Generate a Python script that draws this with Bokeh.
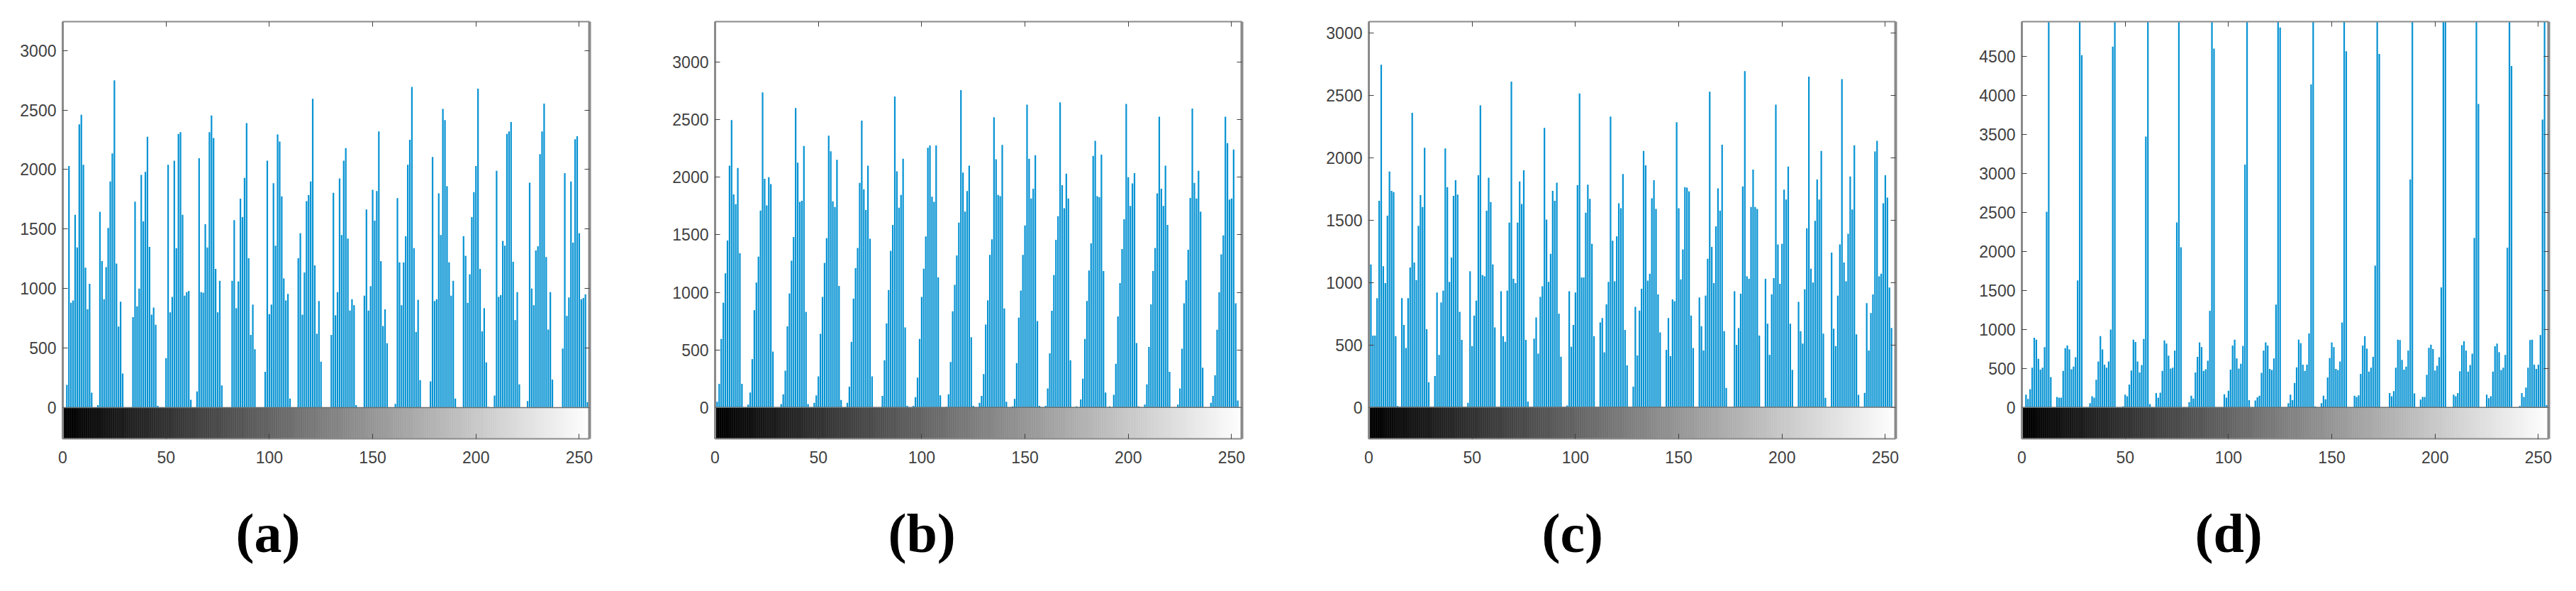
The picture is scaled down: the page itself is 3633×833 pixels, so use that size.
from bokeh.plotting import figure
from bokeh.layouts import row
from bokeh.embed import file_html
from bokeh.resources import INLINE
from bokeh.models import FixedTicker, LinearAxis, Title, Span, Range1d, NumeralTickFormatter

# Histogram counts per grey level (0..255).
# Bars above the top of panel (d) run out of the axes; their height is only a lower estimate.
hist_a = [
    0,0,190,2030,880,900,1620,1345,2380,2460,2040,1175,825,1040,125,0,0,
    20,1645,1230,910,1180,1510,1900,2135,2750,1210,680,890,285,0,0,0,0,
    760,1730,850,1000,1955,1565,1980,2275,1350,780,840,695,15,0,0,
    0,415,2040,800,930,2075,1340,2300,2315,1620,940,970,980,65,0,0,
    135,2095,970,965,1540,1345,2315,2455,2265,1165,800,1065,185,0,0,0,0,
    1065,1575,835,1060,1755,1600,1930,2390,1255,610,865,490,0,0,0,0,
    300,2075,785,865,1885,1360,2295,2235,1775,1085,900,955,75,0,0,0,
    1255,1465,780,1135,1735,1785,1900,2595,1195,620,895,385,0,0,0,0,
    610,1805,775,970,1925,1450,2075,2180,1420,815,910,860,20,0,0,0,
    940,1665,815,1020,1830,1570,1820,2320,1230,685,825,540,0,0,0,
    30,1760,1220,860,1220,1440,2040,2250,2695,1340,635,905,230,0,0,0,0,
    220,2105,895,910,1800,1450,2510,2415,1860,1220,940,1065,75,0,0,0,
    1440,1275,880,1120,1600,1810,2030,2680,1165,640,835,380,5,0,0,
    100,1990,930,945,1400,1360,2300,2320,2400,1225,735,970,195,0,0,0,
    55,1890,1000,860,1320,1355,2130,2320,2555,1265,655,970,235,0,0,0,0,
    495,1970,770,925,1900,1385,2255,2280,1465,910,920,950,45,0,
]
hist_b = [
    30,50,205,595,910,1165,1450,2100,2495,1850,1765,2080,1340,205,0,0,
    25,130,420,845,1085,1310,1710,2735,1985,1755,2000,1940,485,0,0,0,
    30,115,320,705,990,1275,1480,2600,2125,1785,1795,2270,830,30,0,0,
    40,105,270,640,960,1255,1470,2360,2225,1790,1740,2150,1055,65,0,0,
    40,180,570,945,1210,1385,1950,2490,1895,1715,2100,1465,270,0,0,0,0,
    100,410,730,1020,1360,1585,2700,2050,1735,1845,2160,695,15,0,0,
    15,90,260,595,960,1205,1485,2255,2275,1830,1785,2275,1130,105,0,0,
    5,115,395,835,1065,1320,1605,2755,2040,1700,1880,2100,610,15,0,0,
    40,100,290,720,930,1325,1460,2520,2155,1845,1835,2280,860,50,0,0,
    10,75,385,780,1015,1325,1580,2630,2160,1815,1900,2190,750,15,0,0,
    15,165,470,840,1150,1455,1660,2650,1930,1730,2030,1815,410,0,0,10,
    0,70,250,595,925,1190,1425,2185,2315,1835,1825,2195,1185,130,0,10,
    0,110,380,790,1080,1375,1635,2635,2000,1750,1945,2035,560,10,0,0,
    25,200,525,895,1185,1385,1860,2525,1900,1750,2100,1585,310,0,0,0,
    25,165,510,905,1105,1370,1820,2595,1950,1815,2055,1700,345,0,0,0,
    40,100,280,675,1000,1330,1495,2525,2295,1805,1815,2240,905,60,0,0,
]
hist_c = [
    0,1145,575,575,875,1655,2745,1130,995,1535,1890,1735,1725,570,10,0,
    875,660,475,875,1120,2360,1160,1020,1455,1700,1605,2080,625,200,0,0,
    250,920,420,840,935,2075,1765,1005,1200,1695,1820,1705,765,540,0,0,
    35,1090,490,735,855,1860,2420,1060,1050,1575,1840,1645,1145,640,0,0,
    930,570,525,935,1480,2610,1030,995,1480,1810,1630,1900,540,45,0,0,
    550,720,430,885,970,2240,1505,1005,1230,1735,1655,1800,750,405,0,0,
    15,930,485,660,920,1780,2515,1040,1040,1560,1785,1670,1310,570,0,0,
    680,715,440,825,1005,2330,1335,1010,1370,1635,1595,1870,620,335,0,0,
    165,805,415,775,950,2055,1940,1015,1070,1675,1820,1590,905,600,0,0,
    460,715,410,865,850,2285,1595,1025,1265,1765,1760,1730,735,475,0,0,
    880,650,455,895,1190,2530,1285,995,1450,1755,1575,2105,610,155,0,0,
    0,930,500,635,910,1770,2695,1050,1030,1605,1905,1605,1590,575,0,0,
    1030,670,420,905,1035,2425,1305,990,1310,1745,1665,1930,670,300,0,0,
    845,610,510,945,1435,2650,1110,1000,1495,1825,1665,2055,590,75,0,0,
    1240,630,490,895,1305,2630,1160,1010,1390,1850,1585,2100,585,100,0,0,
    115,835,455,755,905,2050,2135,1050,1070,1635,1860,1680,960,635,0,0,
]
hist_d = [
    0,0,165,110,235,510,895,870,625,485,510,775,2510,5600,390,0,0,
    135,125,125,470,760,795,745,490,525,645,1630,5600,4520,0,0,0,
    55,145,125,355,590,915,745,550,510,590,1000,4630,5600,0,0,0,
    15,165,145,295,475,870,840,590,450,545,880,3475,5600,45,0,0,
    185,125,190,470,860,820,665,500,510,730,2375,5600,2055,0,0,0,
    70,150,115,450,650,835,775,470,490,600,1240,5600,4605,0,0,0,0,
    170,125,215,485,795,870,630,500,560,790,3115,5600,95,0,0,
    90,130,150,445,730,835,795,495,480,630,1320,5600,4875,0,0,0,
    55,165,95,315,515,870,825,550,470,550,950,4145,5600,15,0,0,
    55,150,105,385,635,835,775,495,480,590,1090,5600,4570,0,0,0,
    150,135,155,430,795,915,755,460,510,650,1820,5600,4535,0,0,0,0,
    185,145,210,510,870,865,610,485,525,730,2925,5600,180,0,0,
    100,135,135,420,765,805,750,475,535,645,1540,5600,5600,0,0,0,
    165,145,185,465,800,850,730,460,545,690,2175,5600,3895,0,0,0,
    165,120,145,460,785,820,710,480,510,675,2050,5600,4380,0,0,0,
    20,185,135,255,510,865,870,550,495,550,930,3695,5600,30,0,
]
levels = list(range(256))
x_ticks = [0, 50, 100, 150, 200, 250]
y_ticks_abc = [0, 500, 1000, 1500, 2000, 2500, 3000]
y_ticks_d = [0, 500, 1000, 1500, 2000, 2500, 3000, 3500, 4000, 4500]

panels = [
    dict(name="(a)", hist=hist_a, yr=(-263, 3243), ticks=y_ticks_abc, bl=88, br=89),
    dict(name="(b)", hist=hist_b, yr=(-272, 3350), ticks=y_ticks_abc, bl=88, br=88),
    dict(name="(c)", hist=hist_c, yr=(-253, 3091), ticks=y_ticks_abc, bl=91, br=96),
    dict(name="(d)", hist=hist_d, yr=(-402, 4950), ticks=y_ticks_d, bl=82, br=30),
]

BAR = "#0793d3"
FRAME = "#8a8a8a"
TICK = "#404040"
TXT = "#404040"
FRAME_H = 588
greys = ["#%02x%02x%02x" % (v, v, v) for v in levels]

def style(ax, labels=True, width=2):
    ax.axis_line_color = FRAME
    ax.axis_line_width = width
    ax.major_tick_in = 7
    ax.major_tick_out = 0
    ax.minor_tick_in = 0
    ax.minor_tick_out = 0
    ax.major_tick_line_color = TICK
    ax.major_tick_line_width = 1
    if labels:
        ax.major_label_text_font = "Liberation Sans"
        ax.major_label_text_font_size = "23px"
        ax.major_label_text_color = TXT
    else:
        ax.major_label_overrides = {t: "" for t in ax.ticker.ticks}
        ax.major_label_standoff = 0

figs = []
for pn in panels:
    ymin, ymax = pn["yr"]
    p = figure(width=743 + pn["bl"] + pn["br"], height=825,
               frame_width=743, frame_height=FRAME_H,
               x_range=Range1d(0, 255), y_range=Range1d(ymin, ymax),
               output_backend="svg", toolbar_location=None,
               min_border_left=pn["bl"], min_border_right=pn["br"],
               min_border_top=30, min_border_bottom=207,
               background_fill_color="white", border_fill_color="white")
    p.outline_line_color = None
    p.grid.visible = False

    p.vbar(x=levels, top=pn["hist"], bottom=0, width=0.76,
           fill_color=BAR, line_color=None)

    p.quad(left=levels, right=[v + 1 for v in levels],
           bottom=[ymin] * 256, top=[0] * 256,
           fill_color=greys, line_color=greys, line_width=0.5)
    p.add_layout(Span(location=0, dimension="width", line_color="#6f6f6f", line_width=1.5))

    xa = p.xaxis[0]
    xa.ticker = FixedTicker(ticks=x_ticks)
    style(xa)
    xa.major_label_standoff = 17
    ya = p.yaxis[0]
    ya.ticker = FixedTicker(ticks=pn["ticks"])
    ya.formatter = NumeralTickFormatter(format="0")
    style(ya, width=3)
    ya.major_label_standoff = 9
    ya.major_label_orientation = "horizontal"

    top = LinearAxis(ticker=FixedTicker(ticks=x_ticks))
    style(top, labels=False)
    p.add_layout(top, "above")
    right = LinearAxis(ticker=FixedTicker(ticks=pn["ticks"]))
    style(right, labels=False, width=4)
    p.add_layout(right, "right")

    # Panel letter, as a title under the x axis, centred near x = 100.
    p.add_layout(Title(text=pn["name"], align="left", offset=244, standoff=101,
                       text_font="Liberation Serif", text_font_style="bold",
                       text_font_size="78px", text_color="#000000"), "below")
    figs.append(p)

page = row(*figs, spacing=0)
open("out.html", "w").write(file_html(page, INLINE))
